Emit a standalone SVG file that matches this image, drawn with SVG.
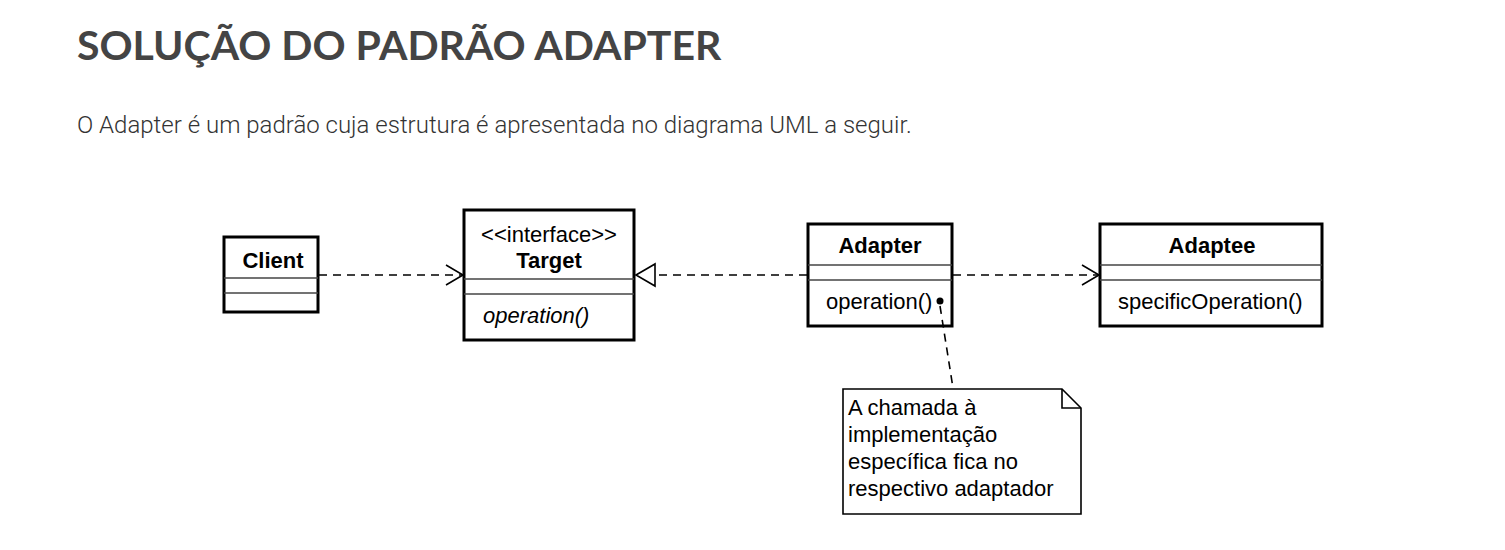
<svg xmlns="http://www.w3.org/2000/svg" width="1505" height="550" viewBox="0 0 1505 550">
<style>
.box{fill:#fff;stroke:#000;stroke-width:3}
.sep{stroke:#444;stroke-width:1.5}
.t{font-family:"Liberation Sans",Arial,sans-serif;font-size:22px;fill:#000}
.b{font-weight:bold}
.c{text-anchor:middle}
.con{fill:none;stroke:#000;stroke-width:1.6;stroke-dasharray:8 6}
.head{fill:none;stroke:#000;stroke-width:1.6}
</style>
<rect width="1505" height="550" fill="#fff"/>
<text x="77" y="60" font-family="Lato,'Open Sans',sans-serif" font-weight="bold" font-size="41" fill="#444">SOLUÇÃO DO PADRÃO ADAPTER</text>
<text x="77" y="133" font-family="Roboto,Lato,sans-serif" font-weight="300" font-size="24" fill="#333">O Adapter é um padrão cuja estrutura é apresentada no diagrama UML a seguir.</text>

<g id="client">
  <rect class="box" x="224" y="237" width="94" height="75"/>
  <line class="sep" x1="224" y1="278" x2="318" y2="278"/>
  <line class="sep" x1="224" y1="293" x2="318" y2="293"/>
  <text class="t b c" x="273" y="268">Client</text>
</g>

<g id="target">
  <rect class="box" x="464" y="210" width="170" height="130"/>
  <line class="sep" x1="464" y1="279" x2="634" y2="279"/>
  <line class="sep" x1="464" y1="294" x2="634" y2="294"/>
  <text class="t c" x="549" y="242">&lt;&lt;interface&gt;&gt;</text>
  <text class="t b c" x="549" y="268">Target</text>
  <text class="t" x="483" y="323" font-style="italic">operation()</text>
</g>

<g id="adapter">
  <rect class="box" x="808" y="224" width="144" height="102"/>
  <line class="sep" x1="808" y1="265" x2="952" y2="265"/>
  <line class="sep" x1="808" y1="280" x2="952" y2="280"/>
  <text class="t b c" x="880" y="253">Adapter</text>
  <text class="t" x="826" y="309">operation()</text>
</g>

<g id="adaptee">
  <rect class="box" x="1100" y="224" width="222" height="102"/>
  <line class="sep" x1="1100" y1="265" x2="1322" y2="265"/>
  <line class="sep" x1="1100" y1="280" x2="1322" y2="280"/>
  <text class="t b c" x="1212" y="253">Adaptee</text>
  <text class="t" x="1118" y="309">specificOperation()</text>
</g>

<g id="note">
  <path d="M843,389 H1062 L1081,408 V514 H843 Z" fill="#fff" stroke="#000" stroke-width="1.6"/>
  <path d="M1062,389 V408 H1081" fill="none" stroke="#000" stroke-width="1.6"/>
  <text class="t" x="848" y="415">A chamada à</text>
  <text class="t" x="848" y="442">implementação</text>
  <text class="t" x="848" y="469">específica fica no</text>
  <text class="t" x="848" y="496">respectivo adaptador</text>
</g>

<g id="connectors">
  <line class="con" x1="319" y1="275" x2="462" y2="275"/>
  <polyline class="head" points="446,265 463,275 446,285"/>
  <line class="con" x1="807" y1="275" x2="655" y2="275"/>
  <polygon points="636,275 655,264 655,286" fill="#fff" stroke="#000" stroke-width="1.6"/>
  <line class="con" x1="953" y1="275" x2="1098" y2="275"/>
  <polyline class="head" points="1082,265 1099,275 1082,285"/>
  <line class="con" x1="940" y1="306" x2="953" y2="388"/>
  <circle cx="940" cy="301" r="3.5" fill="#000"/>
</g>
</svg>
